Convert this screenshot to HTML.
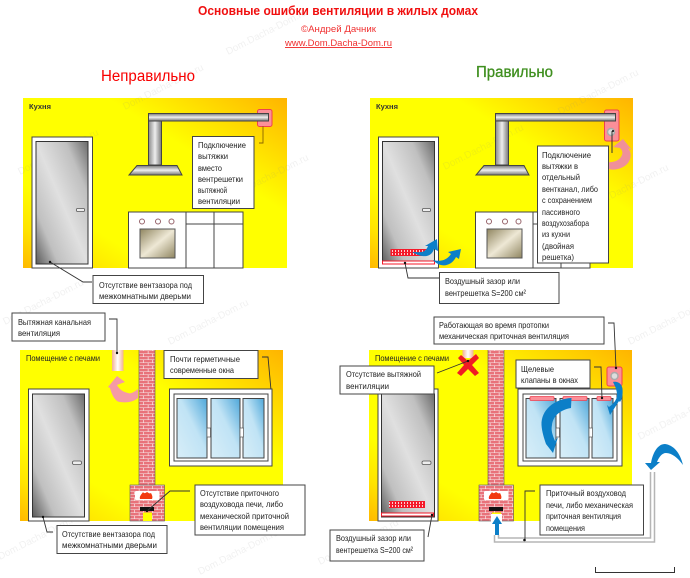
<!DOCTYPE html>
<html><head><meta charset="utf-8">
<style>
html,body{margin:0;padding:0;background:#fff;width:690px;height:578px;overflow:hidden}
svg{display:block}
text{font-family:"Liberation Sans",sans-serif}
.l{font-size:8.5px;fill:#222}
.w{font-size:10px;fill:#888;opacity:.12}
.b{fill:#fff;stroke:#444;stroke-width:1}
.c{fill:none;stroke:#333;stroke-width:.9}
.bk{fill:url(#brick);stroke:none}
</style></head><body>
<svg width="690" height="578" viewBox="0 0 690 578" xmlns="http://www.w3.org/2000/svg">
<defs>
<linearGradient id="y1" x1="0" y1="1" x2="1" y2="0"><stop offset="0" stop-color="#ffb900"/><stop offset=".12" stop-color="#ffe400"/><stop offset=".25" stop-color="#ffff00"/><stop offset=".66" stop-color="#ffff00"/><stop offset="1" stop-color="#ffb400"/></linearGradient>
<linearGradient id="dg" x1="1" y1="0" x2="0" y2="1"><stop offset="0" stop-color="#6a6a6a"/><stop offset=".22" stop-color="#c0c0c0"/><stop offset=".5" stop-color="#e0e0e0"/><stop offset=".78" stop-color="#c0c0c0"/><stop offset="1" stop-color="#5a5a5a"/></linearGradient>
<linearGradient id="h" x1="0" y1="0" x2="0" y2="1"><stop offset="0" stop-color="#777"/><stop offset=".5" stop-color="#eee"/><stop offset="1" stop-color="#777"/></linearGradient>
<linearGradient id="v" x1="0" y1="0" x2="1" y2="0"><stop offset="0" stop-color="#888"/><stop offset=".5" stop-color="#eee"/><stop offset="1" stop-color="#777"/></linearGradient>
<linearGradient id="ov" x1="0" y1="0" x2="1" y2="1"><stop offset="0" stop-color="#8f8560"/><stop offset=".5" stop-color="#eee8d5"/><stop offset="1" stop-color="#8f8560"/></linearGradient>
<linearGradient id="gl" x1="0" y1="1" x2="1" y2="0"><stop offset="0" stop-color="#d8eef8"/><stop offset=".55" stop-color="#c0e3f5"/><stop offset="1" stop-color="#4fa8da"/></linearGradient>
<linearGradient id="pp" x1="0" y1="0" x2="1" y2="0"><stop offset="0" stop-color="#f3b090"/><stop offset=".5" stop-color="#fff"/><stop offset="1" stop-color="#f3b090"/></linearGradient>
<pattern id="brick" width="9" height="6" patternUnits="userSpaceOnUse"><rect width="9" height="6" fill="#f8e8e8"/><rect x="0" y="0" width="8.300" height="2.500" fill="#e8727a"/><rect x="-4.500" y="3" width="8.300" height="2.500" fill="#e8727a"/><rect x="4.500" y="3" width="8.300" height="2.500" fill="#e8727a"/></pattern>
<pattern id="gr" width="3" height="3" patternUnits="userSpaceOnUse"><rect width="3" height="3" fill="#fff"/><rect width="2.200" height="3" fill="#f41a2a"/><rect width="3" height="1" fill="#f41a2a"/></pattern>
</defs>
<rect width="690" height="578" fill="#fff"/>

<!-- Panels -->
<rect x="23" y="98" width="264" height="170" fill="url(#y1)"/>
<rect x="370" y="98" width="263" height="170" fill="url(#y1)"/>
<rect x="20" y="350" width="263" height="171" fill="url(#y1)"/>
<rect x="369" y="350" width="263" height="171" fill="url(#y1)"/>

<!-- Watermarks -->
<g class="w">
<text transform="translate(20,175) rotate(-27)">Dom.Dacha-Dom.ru</text>
<text transform="translate(125,110) rotate(-27)">Dom.Dacha-Dom.ru</text>
<text transform="translate(228,55) rotate(-27)">Dom.Dacha-Dom.ru</text>
<text transform="translate(230,200) rotate(-27)">Dom.Dacha-Dom.ru</text>
<text transform="translate(445,170) rotate(-27)">Dom.Dacha-Dom.ru</text>
<text transform="translate(560,115) rotate(-27)">Dom.Dacha-Dom.ru</text>
<text transform="translate(590,210) rotate(-27)">Dom.Dacha-Dom.ru</text>
<text transform="translate(5,325) rotate(-27)">Dom.Dacha-Dom.ru</text>
<text transform="translate(170,345) rotate(-27)">Dom.Dacha-Dom.ru</text>
<text transform="translate(0,560) rotate(-27)">Dom.Dacha-Dom.ru</text>
<text transform="translate(200,575) rotate(-27)">Dom.Dacha-Dom.ru</text>
<text transform="translate(320,565) rotate(-27)">Dom.Dacha-Dom.ru</text>
<text transform="translate(630,345) rotate(-27)">Dom.Dacha-Dom.ru</text>
<text transform="translate(640,440) rotate(-27)">Dom.Dacha-Dom.ru</text>
</g>

<!-- Header -->
<text x="198" y="15" font-size="13" font-weight="bold" fill="#f01010" textLength="280" lengthAdjust="spacingAndGlyphs">Основные ошибки вентиляции в жилых домах</text>
<text x="301" y="32" font-size="9.500" fill="#f03030" textLength="75" lengthAdjust="spacingAndGlyphs">©Андрей Дачник</text>
<text x="285" y="46" font-size="9.500" fill="#f03030" text-decoration="underline" textLength="107" lengthAdjust="spacingAndGlyphs">www.Dom.Dacha-Dom.ru</text>
<text x="101" y="81" font-size="15.500" fill="#f80000" textLength="94" lengthAdjust="spacingAndGlyphs">Неправильно</text>
<text x="476" y="77" font-size="15.500" fill="#3f8f1f" stroke="#3f8f1f" stroke-width=".3" textLength="77" lengthAdjust="spacingAndGlyphs">Правильно</text>

<!-- Kitchen A -->
<text x="29" y="109" font-size="7.500" font-weight="bold" fill="#333" textLength="22" lengthAdjust="spacingAndGlyphs">Кухня</text>
<rect x="32" y="137" width="60.500" height="131" fill="#fff" stroke="#444"/>
<rect x="36" y="141.500" width="52" height="122.500" fill="url(#dg)" stroke="#333"/>
<rect x="76.500" y="208.500" width="8" height="3" rx="1" fill="#eee" stroke="#555" stroke-width=".8"/>
<rect x="257.500" y="109.500" width="14.500" height="17" rx="2" fill="#fb8f98" stroke="#ef4050"/>
<path d="M263 126v17h-4" fill="none" stroke="#8a6500" stroke-width=".9"/>
<rect x="148.500" y="113.500" width="120" height="7.500" fill="url(#h)" stroke="#444"/>
<rect x="148.500" y="121" width="13" height="44" fill="url(#v)" stroke="#444"/>
<path d="M137 165.500h40l5 9.500h-53z" fill="url(#h)" stroke="#444"/>
<rect x="192.500" y="136.500" width="61.500" height="72" class="b"/>
<text class="l" x="198" y="148" textLength="48" lengthAdjust="spacingAndGlyphs">Подключение</text>
<text class="l" x="198" y="159" textLength="30" lengthAdjust="spacingAndGlyphs">вытяжки</text>
<text class="l" x="198" y="171" textLength="24" lengthAdjust="spacingAndGlyphs">вместо</text>
<text class="l" x="198" y="182" textLength="45" lengthAdjust="spacingAndGlyphs">вентрешетки</text>
<text class="l" x="198" y="193" textLength="29" lengthAdjust="spacingAndGlyphs">вытяжной</text>
<text class="l" x="198" y="204" textLength="42" lengthAdjust="spacingAndGlyphs">вентиляции</text>
<rect x="128.500" y="212" width="57.500" height="56" fill="#fff" stroke="#444"/>
<rect x="186" y="212" width="57" height="56" fill="#fff" stroke="#444"/>
<path d="M214 212v56M186 224h57" stroke="#444" fill="none"/>
<g fill="#fff" stroke="#96636a" stroke-width="1"><circle cx="142" cy="221.500" r="2.500"/><circle cx="158" cy="221.500" r="2.500"/><circle cx="171.500" cy="221.500" r="2.500"/></g>
<rect x="140" y="229" width="35" height="29" fill="url(#ov)" stroke="#555"/>
<path d="M50 262l33 20h9" class="c"/><circle cx="50" cy="262" r="1.200" fill="#111"/>
<rect x="93" y="275.500" width="110.500" height="28" class="b"/>
<text class="l" x="99" y="288" textLength="93" lengthAdjust="spacingAndGlyphs">Отсутствие вентзазора под</text>
<text class="l" x="99" y="299" textLength="92" lengthAdjust="spacingAndGlyphs">межкомнатными дверьми</text>

<!-- Kitchen B -->
<text x="376" y="109" font-size="7.500" font-weight="bold" fill="#333" textLength="22" lengthAdjust="spacingAndGlyphs">Кухня</text>
<rect x="378.500" y="137" width="60" height="131" fill="#fff" stroke="#444"/>
<rect x="382.500" y="141.500" width="52" height="122.500" fill="url(#dg)" stroke="#333"/>
<rect x="422.500" y="208.500" width="8" height="3" rx="1" fill="#eee" stroke="#555" stroke-width=".8"/>
<rect x="390.500" y="249" width="36" height="7" fill="url(#gr)"/>
<rect x="382.500" y="261" width="52" height="3" fill="#fff" stroke="#f41a2a"/>
<path d="M412 252C420 252 425 254 428 246L425 246L437 239L438 251L434 249C431 258 422 258 412 252Z" fill="#0c7fc8"/>
<path d="M433 260C441 262 447 260 451 254L448 252L461 249L459 259L456 257C451 267 440 268 433 260Z" fill="#0c7fc8"/>
<rect x="604.500" y="110" width="14.500" height="31" rx="2" fill="#fb8f98" stroke="#ef4050"/>
<rect x="495.500" y="113.500" width="120" height="7.500" fill="url(#h)" stroke="#444"/>
<rect x="495.500" y="121" width="13" height="44" fill="url(#v)" stroke="#444"/>
<path d="M484 165.500h40l5 9.500h-53z" fill="url(#h)" stroke="#444"/>
<rect x="475.500" y="212" width="57.500" height="56" fill="#fff" stroke="#444"/>
<rect x="533" y="212" width="57" height="56" fill="#fff" stroke="#444"/>
<path d="M561 212v56M533 224h57" stroke="#444" fill="none"/>
<g fill="#fff" stroke="#96636a" stroke-width="1"><circle cx="489" cy="221.500" r="2.500"/><circle cx="505" cy="221.500" r="2.500"/><circle cx="518.500" cy="221.500" r="2.500"/></g>
<rect x="487" y="229" width="35" height="29" fill="url(#ov)" stroke="#555"/>
<circle cx="611" cy="132" r="3.500" fill="#ddd" stroke="#aaa" stroke-width="1.500"/>
<circle cx="613" cy="131" r="1" fill="#111"/>
<path d="M607 162C614 163 620 160 622 155C623 152 622 150 620 148L613 147L623 139L632 150L628 148C632 153 631 159 628 163C624 168 615 171 609 169Z" fill="#f0909a"/>
<rect x="537.500" y="146" width="71" height="117" class="b"/>
<path d="M612 131v22" stroke="#333" stroke-width="1" fill="none"/>
<text class="l" x="542" y="158" textLength="49" lengthAdjust="spacingAndGlyphs">Подключение</text>
<text class="l" x="542" y="169" textLength="36" lengthAdjust="spacingAndGlyphs">вытяжки в</text>
<text class="l" x="542" y="180" textLength="38" lengthAdjust="spacingAndGlyphs">отдельный</text>
<text class="l" x="542" y="192" textLength="56" lengthAdjust="spacingAndGlyphs">вентканал, либо</text>
<text class="l" x="542" y="203" textLength="50" lengthAdjust="spacingAndGlyphs">с сохранением</text>
<text class="l" x="542" y="215" textLength="38" lengthAdjust="spacingAndGlyphs">пассивного</text>
<text class="l" x="542" y="226" textLength="47" lengthAdjust="spacingAndGlyphs">воздухозабора</text>
<text class="l" x="542" y="237" textLength="28" lengthAdjust="spacingAndGlyphs">из кухни</text>
<text class="l" x="542" y="249" textLength="32" lengthAdjust="spacingAndGlyphs">(двойная</text>
<text class="l" x="542" y="260" textLength="32" lengthAdjust="spacingAndGlyphs">решетка)</text>
<path d="M405 263l3 15h31" class="c"/><circle cx="405" cy="263" r="1.200" fill="#111"/>
<rect x="439.500" y="272.500" width="119.500" height="31" class="b"/>
<text class="l" x="445" y="284" textLength="75" lengthAdjust="spacingAndGlyphs">Воздушный зазор или</text>
<text class="l" x="445" y="296" textLength="81" lengthAdjust="spacingAndGlyphs">вентрешетка S=200 см²</text>

<!-- Room C -->
<text class="l" x="26" y="361" textLength="74" lengthAdjust="spacingAndGlyphs">Помещение с печами</text>
<rect x="28.500" y="389" width="60.500" height="132" fill="#fff" stroke="#444"/>
<rect x="32.500" y="394" width="52" height="123" fill="url(#dg)" stroke="#333"/>
<rect x="72.500" y="461" width="9" height="3.500" rx="1.500" fill="#eee" stroke="#555" stroke-width=".8"/>
<rect x="139" y="350" width="16" height="135" class="bk"/>
<path d="M139 350v135M155 350v135" stroke="#555" stroke-width=".6"/>
<rect x="112" y="350" width="11.500" height="21" fill="url(#pp)"/>
<path d="M138 389C133 393 130 394 128 393C123 392 119 389 117 385L125 382L117 376L108 387L110 388C112 396 116 402 120 402C127 403 133 402 138 398Z" fill="#f59aa5"/>
<path d="M109 319h8v34" class="c"/><circle cx="117" cy="353" r="1.200" fill="#111"/>
<rect x="12" y="313" width="93" height="28" class="b"/>
<text class="l" x="18" y="325" textLength="73" lengthAdjust="spacingAndGlyphs">Вытяжная канальная</text>
<text class="l" x="18" y="336" textLength="42" lengthAdjust="spacingAndGlyphs">вентиляция</text>
<rect x="164" y="350.500" width="94" height="28" class="b"/>
<text class="l" x="170" y="362" textLength="70" lengthAdjust="spacingAndGlyphs">Почти  герметичные</text>
<text class="l" x="170" y="373" textLength="64" lengthAdjust="spacingAndGlyphs">современные окна</text>
<path d="M262 357h6l3 33" class="c"/><circle cx="271" cy="390" r="1.200" fill="#111"/>
<rect x="169.500" y="389" width="102.500" height="77" fill="#fff" stroke="#444"/>
<rect x="174" y="394" width="94" height="67" fill="#fff" stroke="#444"/>
<rect x="177" y="398.500" width="30" height="59.500" fill="url(#gl)" stroke="#444"/>
<rect x="211" y="398.500" width="29" height="59.500" fill="url(#gl)" stroke="#444"/>
<rect x="243" y="398.500" width="21" height="59.500" fill="url(#gl)" stroke="#444"/>
<rect x="207" y="428" width="3.500" height="9" fill="#fff" stroke="#555" stroke-width=".7"/>
<rect x="240" y="428" width="3.500" height="9" fill="#fff" stroke="#555" stroke-width=".7"/>
<rect x="130" y="485" width="34.500" height="36" class="bk"/>
<rect x="130" y="485" width="34.500" height="36" fill="none" stroke="#555" stroke-width=".6"/>
<rect x="135" y="491" width="24.500" height="9" rx="1" fill="#fff"/>
<path d="M140 499c-1-3 2-5 3-7 1 2 3 1 4 0 2 1 2 2 4 1 1 2 2 4 1 6z" fill="#f23a10"/>
<rect x="140" y="507" width="14" height="4" fill="#111"/>
<rect x="143" y="512.500" width="9" height="8.500" fill="#ffff00"/>
<path d="M147 511L170 491H190" class="c"/><circle cx="147" cy="511" r="1.200" fill="#111"/>
<rect x="195" y="485" width="110" height="50" class="b"/>
<text class="l" x="200" y="496" textLength="79" lengthAdjust="spacingAndGlyphs">Отсутствие приточного</text>
<text class="l" x="200" y="507" textLength="83" lengthAdjust="spacingAndGlyphs">воздуховода печи, либо</text>
<text class="l" x="200" y="519" textLength="89" lengthAdjust="spacingAndGlyphs">механической приточной</text>
<text class="l" x="200" y="530" textLength="84" lengthAdjust="spacingAndGlyphs">вентиляции помещения</text>
<path d="M43 517l4 15h6" class="c"/><circle cx="43" cy="517" r="1.200" fill="#111"/>
<rect x="57" y="525.500" width="110" height="28" class="b"/>
<text class="l" x="62" y="537" textLength="93" lengthAdjust="spacingAndGlyphs">Отсутствие вентзазора под</text>
<text class="l" x="62" y="548" textLength="95" lengthAdjust="spacingAndGlyphs">межкомнатными дверьми</text>

<!-- Room D -->
<text class="l" x="375" y="361" textLength="74" lengthAdjust="spacingAndGlyphs">Помещение с печами</text>
<rect x="378" y="389" width="60" height="132" fill="#fff" stroke="#444"/>
<rect x="381.500" y="394" width="53" height="123" fill="url(#dg)" stroke="#333"/>
<rect x="422" y="461" width="9" height="3.500" rx="1.500" fill="#eee" stroke="#555" stroke-width=".8"/>
<rect x="389" y="501" width="36" height="7" fill="url(#gr)"/>
<rect x="381.500" y="513" width="52" height="3" fill="#fff" stroke="#f41a2a"/>
<rect x="488" y="350" width="16" height="135" class="bk"/>
<path d="M488 350v135M504 350v135" stroke="#555" stroke-width=".6"/>
<rect x="462.500" y="350" width="11" height="8" fill="url(#pp)"/>
<path d="M458 358l3-3 7 6 8-7 3 4-7 7 7 8-4 3-7-7-7 7-4-3 7-8z" fill="#f01c24"/>
<path d="M437 373L468 361" class="c"/><circle cx="468" cy="361" r="1.200" fill="#111"/>
<rect x="340" y="366" width="94" height="28" class="b"/>
<text class="l" x="346" y="377" textLength="75" lengthAdjust="spacingAndGlyphs">Отсутствие вытяжной</text>
<text class="l" x="346" y="389" textLength="43" lengthAdjust="spacingAndGlyphs">вентиляции</text>
<rect x="434" y="317" width="170" height="27" class="b"/>
<text class="l" x="439" y="328" textLength="110" lengthAdjust="spacingAndGlyphs">Работающая во время протопки</text>
<text class="l" x="439" y="339" textLength="130" lengthAdjust="spacingAndGlyphs">механическая приточная вентиляция</text>
<rect x="607" y="367" width="15" height="19" rx="2" fill="#fb8f98" stroke="#ef4050"/>
<path d="M608 323h6l2 45" class="c"/>
<circle cx="614.500" cy="376" r="3.500" fill="#ddd" stroke="#aaa" stroke-width="1.500"/>
<circle cx="616" cy="368" r="1.200" fill="#111"/>
<rect x="518" y="389" width="104" height="77" fill="#fff" stroke="#444"/>
<rect x="523" y="394" width="94" height="67" fill="#fff" stroke="#444"/>
<rect x="526" y="398.500" width="30" height="59.500" fill="url(#gl)" stroke="#444"/>
<rect x="560" y="398.500" width="29" height="59.500" fill="url(#gl)" stroke="#444"/>
<rect x="592" y="398.500" width="21" height="59.500" fill="url(#gl)" stroke="#444"/>
<rect x="556" y="428" width="3.500" height="9" fill="#fff" stroke="#555" stroke-width=".7"/>
<rect x="589" y="428" width="3.500" height="9" fill="#fff" stroke="#555" stroke-width=".7"/>
<rect x="530" y="396.500" width="24" height="4" rx="1" fill="#fb8f98" stroke="#ef4050" stroke-width=".8"/>
<rect x="563" y="396.500" width="24" height="4" rx="1" fill="#fb8f98" stroke="#ef4050" stroke-width=".8"/>
<rect x="597" y="396.500" width="14" height="4" rx="1" fill="#fb8f98" stroke="#ef4050" stroke-width=".8"/>
<path d="M571.500 398C554 399 541 410 541.500 425C542 432 544 438 546 444L553 453L558 437L555 441C552 434 551 430 552 425C553 416 560 410 571 408Z" fill="#0c7fc8"/>
<path d="M613 382C618 381 622 384 622.500 389C623 395 622 399 620 402L619 401L610 415L607 405L609 407C613 404 617 400 617 395C617 390 615 386 613 382Z" fill="#0c7fc8"/>
<rect x="516" y="360" width="74" height="28" class="b"/>
<text class="l" x="521" y="372" textLength="33" lengthAdjust="spacingAndGlyphs">Щелевые</text>
<text class="l" x="521" y="383" textLength="57" lengthAdjust="spacingAndGlyphs">клапаны в окнах</text>
<path d="M594 367h7l1 32" class="c"/><circle cx="602" cy="398" r="1.200" fill="#111"/>
<rect x="479" y="485" width="34.500" height="36" class="bk"/>
<rect x="479" y="485" width="34.500" height="36" fill="none" stroke="#555" stroke-width=".6"/>
<rect x="484" y="491" width="24.500" height="9" rx="1" fill="#fff"/>
<path d="M489 499c-1-3 2-5 3-7 1 2 3 1 4 0 2 1 2 2 4 1 1 2 2 4 1 6z" fill="#f23a10"/>
<rect x="489" y="507" width="14" height="4" fill="#111"/>
<rect x="492" y="512.500" width="9" height="8.500" fill="#ffff00"/>
<path d="M496.500 521V540H652.500V472" fill="none" stroke="#b5b5b5" stroke-width="5.500"/>
<path d="M496.500 521V540H652.500V472" fill="none" stroke="#fff" stroke-width="2.500"/>
<path d="M491 514h11v21h-11z" fill="#fff"/>
<path d="M497 516l-5 8h3v11h4v-11h3z" fill="#0c7fc8"/>
<path d="M683 465C680 452 673 445 665 444C658 444 653 452 651 463L645 463L651 470L660 462L657 462C659 457 662 453 666 453C672 453 678 458 683 465Z" fill="#0c7fc8"/>
<rect x="540" y="485" width="103.500" height="50" class="b"/>
<text class="l" x="546" y="496" textLength="80" lengthAdjust="spacingAndGlyphs">Приточный воздуховод</text>
<text class="l" x="546" y="508" textLength="87" lengthAdjust="spacingAndGlyphs">печи, либо механическая</text>
<text class="l" x="546" y="519" textLength="75" lengthAdjust="spacingAndGlyphs">приточная вентиляция</text>
<text class="l" x="546" y="531" textLength="39" lengthAdjust="spacingAndGlyphs">помещения</text>
<path d="M535 491h-10v49" class="c"/><circle cx="524.500" cy="540" r="1.300" fill="#111"/>
<path d="M432 515l-4 22" class="c"/><circle cx="432" cy="515" r="1.200" fill="#111"/>
<rect x="330" y="530" width="94" height="31" class="b"/>
<text class="l" x="336" y="541" textLength="75" lengthAdjust="spacingAndGlyphs">Воздушный зазор или</text>
<text class="l" x="336" y="553" textLength="77" lengthAdjust="spacingAndGlyphs">вентрешетка S=200 см²</text>

<path d="M595.500 567v5.500h79v-5.500" fill="none" stroke="#333" stroke-width="1"/>
</svg>
</body></html>
